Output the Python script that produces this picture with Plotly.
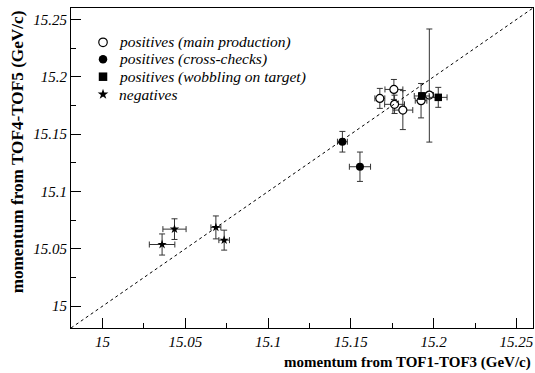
import plotly.graph_objects as go

# positives, main production
main_x = [15.1675, 15.1760, 15.1764, 15.1814, 15.1924, 15.1974]
main_y = [15.1812, 15.1890, 15.1760, 15.1710, 15.1792, 15.1841]
main_ex = [0.0030, 0.0054, 0.0060, 0.0060, 0.0035, 0.0025]
main_ey_plus = [0.0087, 0.0087, 0.0080, 0.0170, 0.0150, 0.0576]
main_ey_minus = [0.0087, 0.0087, 0.0080, 0.0170, 0.0150, 0.0410]

# positives, cross-checks
cross_x = [15.1449, 15.1555]
cross_y = [15.1434, 15.1216]
cross_ex = [0.0030, 0.0064]
cross_ey = [0.0090, 0.0128]

# positives, wobbling on target
wobble_x = [15.1928, 15.2028]
wobble_y = [15.1833, 15.1821]
wobble_ex = [0.0045, 0.0053]
wobble_ey = [0.0030, 0.0087]

# negatives
neg_x = [15.0360, 15.0435, 15.0685, 15.0735]
neg_y = [15.0538, 15.0672, 15.0687, 15.0576]
neg_ex = [0.0077, 0.0070, 0.0030, 0.0032]
neg_ey = [0.0092, 0.0090, 0.0100, 0.0087]

x_ticks = [15.0, 15.05, 15.1, 15.15, 15.2, 15.25]
x_ticklabels = ["15", "15.05", "15.1", "15.15", "15.2", "15.25"]
y_ticks = [15.0, 15.05, 15.1, 15.15, 15.2, 15.25]
y_ticklabels = ["15", "15.05", "15.1", "15.15", "15.2", "15.25"]

legend_labels = [
    "positives (main production)",
    "positives (cross-checks)",
    "positives (wobbling on target)",
    "negatives",
]
legend_symbols = ["circle-open", "circle", "square", "star"]

axis_range = [14.981, 15.26]
serif = "Liberation Serif"
bar_color = "#333333"

fig = go.Figure()


def err(arr, minus=None, cap=3):
    d = dict(type="data", array=arr, color=bar_color, thickness=1, width=cap, visible=True)
    if minus is not None:
        d["symmetric"] = False
        d["arrayminus"] = minus
    return d


# diagonal y = x
fig.add_shape(type="line", x0=axis_range[0], y0=axis_range[0], x1=axis_range[1], y1=axis_range[1],
              xref="x", yref="y", line=dict(color="black", width=1, dash="3px,3px"))

fig.add_trace(go.Scatter(
    x=main_x, y=main_y, mode="markers",
    error_x=err(main_ex), error_y=err(main_ey_plus, main_ey_minus),
    marker=dict(symbol="circle", size=8, color="white", line=dict(width=1.2, color="black")),
    showlegend=False))

fig.add_trace(go.Scatter(
    x=cross_x, y=cross_y, mode="markers",
    error_x=err(cross_ex), error_y=err(cross_ey),
    marker=dict(symbol="circle", size=8, color="black"),
    showlegend=False))

fig.add_trace(go.Scatter(
    x=wobble_x, y=wobble_y, mode="markers",
    error_x=err(wobble_ex), error_y=err(wobble_ey),
    marker=dict(symbol="square", size=7.5, color="black"),
    showlegend=False))

fig.add_trace(go.Scatter(
    x=neg_x, y=neg_y, mode="markers",
    error_x=err(neg_ex), error_y=err(neg_ey),
    marker=dict(symbol="star", size=7, color="black", line=dict(width=0)),
    showlegend=False))

# legend block drawn on an overlay axis in plot-area fractions
leg_y = [0.8928, 0.8397, 0.7853, 0.7303]
leg_x = 0.0693
for sym, yy in zip(legend_symbols, leg_y):
    fill = "white" if sym == "circle-open" else "black"
    s = "circle" if sym == "circle-open" else sym
    fig.add_trace(go.Scatter(
        x=[leg_x], y=[yy], xaxis="x2", yaxis="y2", mode="markers",
        marker=dict(symbol=s, size=8 if sym == "star" else 8.5, color=fill,
                    line=dict(width=1.2 if sym == "circle-open" else 0, color="black")),
        showlegend=False, hoverinfo="skip"))
for lab, yy in zip(legend_labels, leg_y):
    fig.add_annotation(x=0.0996, y=yy, xref="paper", yref="paper", text=f"<i>{lab}</i>",
                       showarrow=False, xanchor="left", yanchor="middle",
                       font=dict(family=serif, size=15.5, color="black"))

# axis titles
fig.add_annotation(x=1.0, y=-0.109, xref="paper", yref="paper",
                   text="<b>momentum from TOF1-TOF3 (GeV/c)</b>", showarrow=False,
                   xanchor="right", yanchor="middle",
                   font=dict(family=serif, size=15, color="black"))
fig.add_annotation(x=-0.115, y=1.0, xref="paper", yref="paper",
                   text="<b>momentum from TOF4-TOF5 (GeV/c)</b>", showarrow=False, textangle=-90,
                   xanchor="center", yanchor="top",
                   font=dict(family=serif, size=17.2, color="black"))

axis_common = dict(
    range=axis_range, showgrid=False, zeroline=False,
    showline=True, linecolor="black", linewidth=1, mirror=True,
    ticks="inside", ticklen=10, tickwidth=1, tickcolor="black",
    minor=dict(ticks="inside", ticklen=5, tickwidth=1, tickcolor="black", dtick=0.025, tick0=15.0),
    tickfont=dict(family=serif, size=15, color="black"),
)

fig.update_layout(
    width=535, height=373,
    margin=dict(l=71, r=2, t=8, b=45),
    paper_bgcolor="white", plot_bgcolor="white",
    xaxis=dict(tickvals=x_ticks, ticktext=[f"<i>{t}</i>" for t in x_ticklabels], **axis_common),
    yaxis=dict(tickvals=y_ticks, ticktext=[f"<i>{t}</i>" for t in y_ticklabels], **axis_common),
    xaxis2=dict(overlaying="x", range=[0, 1], visible=False, fixedrange=True),
    yaxis2=dict(overlaying="y", range=[0, 1], visible=False, fixedrange=True),
    showlegend=False,
)

fig.write_html("out.html")
